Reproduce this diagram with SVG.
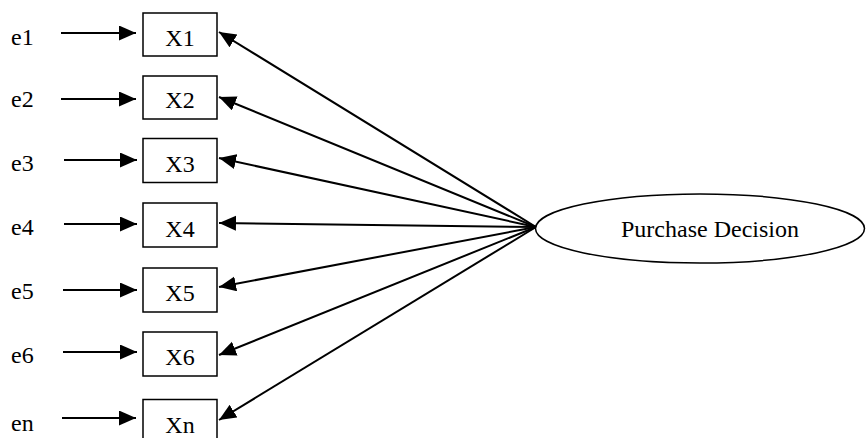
<svg xmlns="http://www.w3.org/2000/svg" width="866" height="438" viewBox="0 0 866 438">
<style>
.box{fill:#fff;stroke:#000;stroke-width:1.5}
.lbl{font-family:"Liberation Serif","Times New Roman",serif;font-size:24px;fill:#000}
.c{text-anchor:middle}
.ln{stroke:#000;stroke-width:2;fill:none;marker-end:url(#ah)}
</style>
<defs>
<marker id="ah" markerUnits="userSpaceOnUse" markerWidth="18" markerHeight="16" refX="17" refY="7.5" orient="auto" viewBox="0 0 18 16">
<path d="M0,0 L17,7.5 L0,15 z" fill="#000"/>
</marker>
</defs>
<rect width="866" height="438" fill="#fff"/>
<g id="connectors">
<line class="ln" x1="61" y1="33" x2="136" y2="33"/>
<line class="ln" x1="61" y1="99" x2="136" y2="99"/>
<line class="ln" x1="64" y1="160" x2="137" y2="160"/>
<line class="ln" x1="64" y1="224" x2="137" y2="224"/>
<line class="ln" x1="63" y1="290" x2="137" y2="290"/>
<line class="ln" x1="63" y1="352" x2="137" y2="352"/>
<line class="ln" x1="62" y1="418" x2="136" y2="418"/>
<line class="ln" x1="536" y1="227" x2="219" y2="32"/>
<line class="ln" x1="536" y1="227" x2="219" y2="97"/>
<line class="ln" x1="536" y1="227" x2="219" y2="158"/>
<line class="ln" x1="536" y1="227" x2="219" y2="223"/>
<line class="ln" x1="536" y1="227" x2="219" y2="287"/>
<line class="ln" x1="536" y1="227" x2="219" y2="355"/>
<line class="ln" x1="536" y1="227" x2="219" y2="420"/>
</g>
<g id="e1"><text class="lbl" x="11" y="45">e1</text></g>
<g id="e2"><text class="lbl" x="11" y="107">e2</text></g>
<g id="e3"><text class="lbl" x="11" y="171">e3</text></g>
<g id="e4"><text class="lbl" x="11" y="235">e4</text></g>
<g id="e5"><text class="lbl" x="11" y="299">e5</text></g>
<g id="e6"><text class="lbl" x="11" y="363">e6</text></g>
<g id="en"><text class="lbl" x="11" y="431">en</text></g>
<g id="X1"><rect class="box" x="143" y="13" width="74" height="43"/><text class="lbl c" x="180" y="46">X1</text></g>
<g id="X2"><rect class="box" x="143" y="76" width="74" height="43"/><text class="lbl c" x="180" y="108">X2</text></g>
<g id="X3"><rect class="box" x="143" y="138.5" width="74" height="44"/><text class="lbl c" x="180" y="172">X3</text></g>
<g id="X4"><rect class="box" x="143" y="203" width="74" height="44"/><text class="lbl c" x="180" y="237">X4</text></g>
<g id="X5"><rect class="box" x="143" y="268" width="74" height="44"/><text class="lbl c" x="180" y="301">X5</text></g>
<g id="X6"><rect class="box" x="143" y="332" width="74" height="44"/><text class="lbl c" x="180" y="365">X6</text></g>
<g id="Xn"><rect class="box" x="143" y="399.5" width="74" height="44"/><text class="lbl c" x="180" y="433">Xn</text></g>
<g id="purchase-decision"><ellipse class="box" cx="700" cy="228.5" rx="164.5" ry="34.5"/><text class="lbl c" x="710" y="237">Purchase Decision</text></g>
</svg>
